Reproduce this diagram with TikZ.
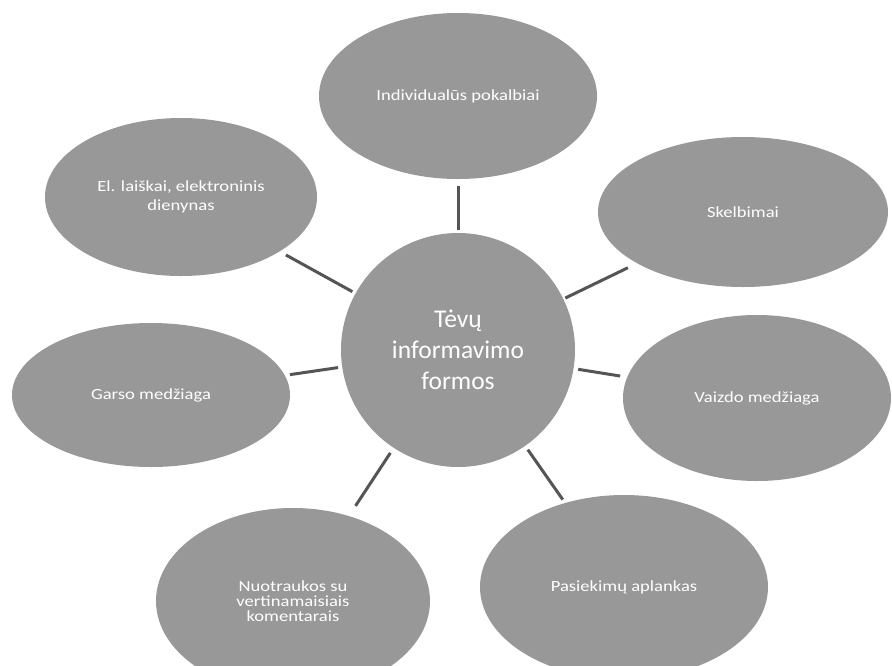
\documentclass[tikz,border=0pt]{standalone}
\usepackage{fontspec}
\setmainfont{Carlito}
\newfontfamily\widefont[FakeStretch=1.2]{Carlito}
\usetikzlibrary{shapes.geometric}
\definecolor{blobgray}{RGB}{152,152,152}
\definecolor{linkgray}{RGB}{85,85,85}
\tikzset{
  blob/.style={ellipse, fill=blobgray, draw=none, inner sep=0pt, text=white, align=center,
    font=\widefont\fontsize{15.5}{19}\selectfont},
  hub/.style={circle, fill=blobgray, draw=none, inner sep=0pt, minimum size=234pt, text=white, align=center,
    font=\fontsize{25.5}{31}\selectfont},
  link/.style={draw=linkgray, line width=3pt}
}
\begin{document}
\begin{tikzpicture}[x=1pt,y=-1pt]
\useasboundingbox[fill=white] (0,0) rectangle (892,665);
\clip (0,0) rectangle (892,665);
\node[hub] (c) at (458,350) {Tėvų\\informavimo\\formos};
\node[blob, minimum width=278pt, minimum height=166pt] (top) at (458,96) {Individualūs pokalbiai};
\node[blob, minimum width=272pt, minimum height=158pt] (ul) at (181,197) {El. laiškai, elektroninis\\dienynas};
\node[blob, minimum width=290pt, minimum height=150pt] (ur) at (743,212) {Skelbimai};
\node[blob, minimum width=278pt, minimum height=144pt] (l) at (151,395) {Garso medžiaga};
\node[blob, minimum width=268pt, minimum height=166pt] (r) at (757,398) {Vaizdo medžiaga};
\node[blob, minimum width=274pt, minimum height=186pt, font=\widefont\fontsize{15.5}{15}\selectfont] (bl) at (293,601) {Nuotraukos su\\vertinamaisiais\\komentarais};
\node[blob, minimum width=288pt, minimum height=184pt] (br) at (624,587) {Pasiekimų aplankas};
\draw[link, shorten <=3pt, shorten >=7pt] (c) -- (top);
\draw[link, shorten <=3.5pt, shorten >=7pt] (c) -- (ul);
\draw[link, shorten <=2pt, shorten >=10pt] (c) -- (ur);
\draw[link, shorten <=4pt, shorten >=5pt] (c) -- (l);
\draw[link, shorten <=4.5pt, shorten >=7pt] (c) -- (r);
\draw[link, shorten <=6pt, shorten >=12pt] (c) -- (bl);
\draw[link, shorten <=4.5pt, shorten >=4pt] (c) -- (br);
\end{tikzpicture}
\end{document}
